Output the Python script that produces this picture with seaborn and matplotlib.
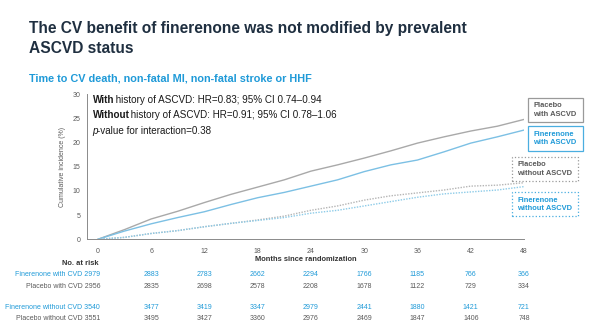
import matplotlib
matplotlib.use("Agg")
import matplotlib.pyplot as plt
import seaborn as sns
import pandas as pd
import numpy as np
from matplotlib.patches import Rectangle

# ---------------- data ----------------
months = [0, 3, 6, 9, 12, 15, 18, 21, 24, 27, 30, 33, 36, 39, 42, 45, 48]
placebo_with = [0, 2.0, 4.2, 5.8, 7.6, 9.3, 10.8, 12.3, 14.1, 15.4, 16.8, 18.3, 19.9, 21.2, 22.4, 23.4, 24.8]
finer_with = [0, 1.7, 3.2, 4.5, 5.7, 7.2, 8.6, 9.7, 11.0, 12.3, 14.0, 15.4, 16.4, 18.1, 19.9, 21.2, 22.6]
placebo_without = [0, 0.4, 1.2, 1.8, 2.6, 3.3, 4.0, 4.8, 6.0, 6.9, 8.1, 9.0, 9.6, 10.2, 11.0, 11.2, 11.7]
finer_without = [0, 0.4, 1.2, 1.8, 2.6, 3.3, 3.9, 4.5, 5.4, 6.0, 6.9, 7.8, 8.7, 9.4, 9.8, 10.2, 10.9]

series_names = ["Placebo with ASCVD", "Finerenone with ASCVD",
                "Placebo without ASCVD", "Finerenone without ASCVD"]

risk_months = [0, 6, 12, 18, 24, 30, 36, 42, 48]
risk_labels = ["Finerenone with CVD", "Placebo with CVD",
               "Finerenone without CVD", "Placebo without CVD"]
risk_fin_with = [2979, 2883, 2783, 2662, 2294, 1766, 1185, 766, 366]
risk_pla_with = [2956, 2835, 2698, 2578, 2208, 1678, 1122, 729, 334]
risk_fin_without = [3540, 3477, 3419, 3347, 2979, 2441, 1880, 1421, 721]
risk_pla_without = [3551, 3495, 3427, 3360, 2976, 2469, 1847, 1406, 748]

xticks = [0, 6, 12, 18, 24, 30, 36, 42, 48]
yticks = [0, 5, 10, 15, 20, 25, 30]

# ---------------- style ----------------
sns.set_style("white")
plt.rcParams["font.family"] = ["Liberation Sans", "DejaVu Sans"]

GREY_LINE = "#a9a9a9"
BLUE_LINE = "#7cc0e4"
GREY_TXT = "#5a5a5a"
BLUE_TXT = "#1f9ad8"
NAVY = "#1f2f40"

W, H = 600, 333
fig = plt.figure(figsize=(6.0, 3.33), dpi=100)
fig.patch.set_facecolor("white")

def fx(px):
    return px / W

def fy(py):
    return 1 - py / H

left, right, top, bottom = 86.7, 524.0, 94.3, 239.3
ax = fig.add_axes([fx(left), fy(bottom), (right - left) / W, (bottom - top) / H])

df = pd.DataFrame({
    "month": months * 4,
    "value": placebo_with + finer_with + placebo_without + finer_without,
    "series": sum([[s] * len(months) for s in series_names], []),
})
palette = {series_names[0]: GREY_LINE, series_names[1]: BLUE_LINE,
           series_names[2]: "#b5b5b5", series_names[3]: "#8ccbe8"}
dashes = {series_names[0]: "", series_names[1]: "",
          series_names[2]: (1, 1), series_names[3]: (1, 1)}
sns.lineplot(data=df, x="month", y="value", hue="series", style="series",
             palette=palette, dashes=dashes, linewidth=1.0, legend=False, ax=ax)

ax.set_xlim(-1.25, 48)
ax.set_ylim(0, 30)
ax.set_xticks(xticks)
ax.set_xticks([3, 9, 15, 21, 27, 33, 39, 45], minor=True)
ax.set_yticks(yticks)
ax.set_xticklabels([str(t) for t in xticks])
ax.tick_params(axis="both", which="both", direction="out", length=2.5, width=0.6,
               colors="#666666", labelsize=5, labelcolor=GREY_TXT, pad=2)
ax.tick_params(axis="x", which="major", pad=4)
for s in ["top", "right"]:
    ax.spines[s].set_visible(False)
for s in ["left", "bottom"]:
    ax.spines[s].set_color("#8a8a8a")
    ax.spines[s].set_linewidth(0.7)
ax.set_xlabel("")
ax.set_ylabel("Cumulative incidence (%)", fontsize=5, color=GREY_TXT, labelpad=5)

# ---------------- titles ----------------
fig.text(fx(29), fy(33.3), "The CV benefit of finerenone was not modified by prevalent",
         fontsize=11.2, fontweight="bold", color=NAVY, va="baseline", ha="left")
fig.text(fx(29), fy(52.7), "ASCVD status",
         fontsize=11.2, fontweight="bold", color=NAVY, va="baseline", ha="left")
fig.text(fx(29), fy(81.7), "Time to CV death, non-fatal MI, non-fatal stroke or HHF",
         fontsize=7.85, fontweight="bold", color=BLUE_TXT, va="baseline", ha="left")

# ---------------- annotations in plot ----------------
renderer = fig.canvas.get_renderer()

def mixed(x, y, parts, size=7.1, color="#1a1a1a"):
    cur = x
    for txt, kw in parts:
        t = fig.text(fx(cur), fy(y), txt, fontsize=size, color=color,
                     va="baseline", ha="left", **kw)
        bb = t.get_window_extent(renderer=renderer)
        cur += bb.width - 1.5

mixed(92.7, 103.3, [("With", {"fontweight": "bold"}),
                    (" history of ASCVD: HR=0.83; 95% CI 0.74\u20130.94", {})])
mixed(92.7, 118.3, [("Without", {"fontweight": "bold"}),
                    (" history of ASCVD: HR=0.91; 95% CI 0.78\u20131.06", {})])
mixed(92.7, 134.3, [("p", {"fontstyle": "italic"}),
                    ("-value for interaction=0.38", {})])

# ---------------- legend boxes ----------------
boxes = [
    ("Placebo\nwith ASCVD", 528, 98, 55, 24, "#9a9a9a", "-", GREY_TXT),
    ("Finerenone\nwith ASCVD", 528, 126.5, 55, 24, "#4aaee0", "-", BLUE_TXT),
    ("Placebo\nwithout ASCVD", 512, 157, 66, 24, "#9a9a9a", ":", GREY_TXT),
    ("Finerenone\nwithout ASCVD", 512, 192.3, 66, 24, "#4aaee0", ":", BLUE_TXT),
]
for txt, bx, by, bw, bh, ec, ls, tc in boxes:
    r = Rectangle((fx(bx), fy(by + bh)), bw / W, bh / H, transform=fig.transFigure,
                  facecolor="white", edgecolor=ec, linewidth=0.9, linestyle=ls)
    fig.add_artist(r)
    fig.text(fx(bx + 5), fy(by + bh / 2), txt, fontsize=5.4, fontweight="bold",
             color=tc, va="center", ha="left", linespacing=1.25)

# ---------------- x label & risk table ----------------
fig.text(fx((left + right) / 2), fy(259.3), "Months since randomization",
         fontsize=5.4, fontweight="bold", color="#333333", ha="center", va="center")
fig.text(fx(99), fy(263.3), "No. at risk", fontsize=5.4, fontweight="bold",
         color="#333333", ha="right", va="center")

risk_rows = [risk_fin_with, risk_pla_with, risk_fin_without, risk_pla_without]
row_y = [275, 286, 307.3, 318.3]
row_col = [BLUE_TXT, GREY_TXT, BLUE_TXT, GREY_TXT]

def month_to_px(m):
    return left + (m - (-1.25)) / (48 + 1.25) * (right - left)

for lab, vals, yy, col in zip(risk_labels, risk_rows, row_y, row_col):
    fig.text(fx(100), fy(yy), f"{lab} {vals[0]}", fontsize=5, color=col,
             ha="right", va="center")
    for m, v in zip(risk_months[1:], vals[1:]):
        fig.text(fx(month_to_px(m)), fy(yy), str(v), fontsize=5, color=col,
                 ha="center", va="center")

fig.savefig("out.png", dpi=100, facecolor="white")
